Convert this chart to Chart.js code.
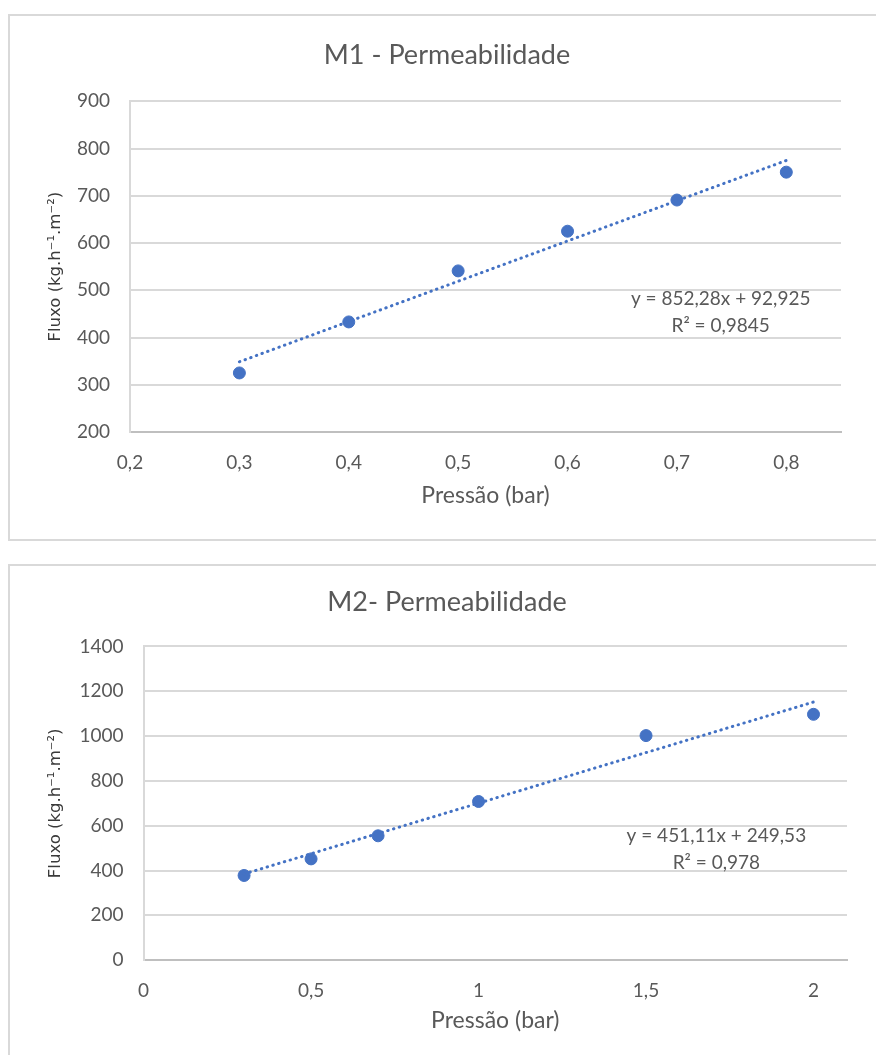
<!DOCTYPE html>
<html>
<head>
<meta charset="utf-8">
<script src="https://cdn.jsdelivr.net/npm/chart.js@4/dist/chart.umd.min.js"></script>
<style>
  body { margin: 0; background: #fff; overflow: hidden; }
  .box { position: absolute; left: 8px; width: 874px; border: 2px solid #d9d9d9; background: #fff; }
  .box canvas { display: block; }
</style>
</head>
<body>
<div class="box" style="top:14px; height:523px;"><canvas id="m1" width="874" height="523"></canvas></div>
<div class="box" style="top:564px; height:522px;"><canvas id="m2" width="874" height="522"></canvas></div>
<script>
// M1
const m1Pressao = [0.3, 0.4, 0.5, 0.6, 0.7, 0.8];
const m1Fluxo = [325, 433, 541, 625, 691, 750];
const m1Trend = [852.28, 92.925];   // slope, intercept
const m1XTicks = [0.2, 0.3, 0.4, 0.5, 0.6, 0.7, 0.8];
const m1Labels = ['y = 852,28x + 92,925', 'R² = 0,9845'];

// M2
const m2Pressao = [0.3, 0.5, 0.7, 1.0, 1.5, 2.0];
const m2Fluxo = [378, 452, 555, 708, 1002, 1097];
const m2Trend = [451.11, 249.53];
const m2XTicks = [0, 0.5, 1, 1.5, 2];
const m2Labels = ['y = 451,11x + 249,53', 'R² = 0,978'];

const blue = '#4472C4';
const grey = '#595959';
const FONT = 'Lato';

const equationLabel = {
  id: 'equationLabel',
  afterDatasetsDraw(chart, args, opts) {
    const ctx = chart.ctx;
    const x = chart.scales.x.getPixelForValue(opts.x);
    const y = chart.scales.y.getPixelForValue(opts.y);
    ctx.save();
    ctx.font = '19px ' + FONT;
    ctx.fillStyle = grey;
    ctx.textAlign = 'center';
    ctx.textBaseline = 'middle';
    opts.lines.forEach((line, i) => {
      ctx.fillText(line, x, y + (i - (opts.lines.length - 1) / 2) * 27);
    });
    ctx.restore();
  }
};

function points(xs, ys) {
  return xs.map((x, i) => ({x: x, y: ys[i]}));
}

function trendPoints(xs, coef) {
  const a = xs[0], b = xs[xs.length - 1];
  return [{x: a, y: coef[0] * a + coef[1]}, {x: b, y: coef[0] * b + coef[1]}];
}

function decimalComma(v) {
  return String(Math.round(v * 100) / 100).replace('.', ',');
}

function makeChart(id, cfg) {
  return new Chart(document.getElementById(id).getContext('2d'), {
    type: 'scatter',
    data: {
      datasets: [{
        label: 'trend',
        data: trendPoints(cfg.xs, cfg.trend),
        showLine: true,
        borderColor: blue,
        borderWidth: 3,
        borderDash: [0.5, 5.5],
        borderCapStyle: 'round',
        pointRadius: 0,
        order: 0,
      },
      {
        label: 'Fluxo',
        data: points(cfg.xs, cfg.ys),
        backgroundColor: blue,
        borderColor: blue,
        borderWidth: 1,
        pointRadius: 6,
        order: 1,
      }]
    },
    plugins: [equationLabel],
    options: {
      responsive: false,
      animation: false,
      layout: { padding: { top: 0, left: 0, right: 0, bottom: cfg.padBottom } },
      plugins: {
        legend: { display: false },
        tooltip: { enabled: false },
        title: {
          display: true,
          text: cfg.title,
          color: grey,
          font: { family: FONT, size: 27, weight: 'normal' },
          padding: { top: cfg.titleTop, bottom: cfg.titleBottom },
        },
        equationLabel: { x: cfg.labelAt[0], y: cfg.labelAt[1], lines: cfg.lines },
      },
      scales: {
        x: {
          type: 'linear',
          min: cfg.xMin,
          max: cfg.xMax,
          afterFit: (scale) => { scale.height = 80; },
          afterBuildTicks: (scale) => { scale.ticks = cfg.xTicks.map((v) => ({value: v})); },
          grid: { display: false },
          border: { display: true, color: '#bfbfbf', width: 2 },
          ticks: {
            padding: 11,
            color: grey,
            font: { family: FONT, size: 19 },
            callback: (v) => decimalComma(v),
          },
          title: {
            display: true,
            text: 'Pressão (bar)',
            color: grey,
            font: { family: FONT, size: 23 },
            padding: { top: 0, bottom: cfg.xTitlePad },
          }
        },
        y: {
          min: cfg.yMin,
          max: cfg.yMax,
          afterFit: (scale) => { scale.width = cfg.yWidth; },
          grid: { color: '#d9d9d9', lineWidth: 2, drawTicks: false },
          border: { display: true, color: '#d9d9d9', width: 2 },
          ticks: {
            stepSize: cfg.yStep,
            padding: 20,
            color: grey,
            font: { family: FONT, size: 19 },
            callback: (v) => String(v),
          },
          title: {
            display: true,
            text: 'Fluxo (kg.h⁻¹.m⁻²)',
            color: '#3a3a3a',
            font: { family: '"DejaVu Sans", Verdana, sans-serif', size: 16.5 },
            padding: { top: 36, bottom: 0 },
          }
        },
        // empty right-hand axis, only keeps the plot area off the right edge
        spacer: {
          type: 'linear',
          position: 'right',
          display: true,
          afterFit: (scale) => { scale.width = cfg.padRight; },
          grid: { display: false },
          border: { display: false },
          ticks: { display: false },
        }
      }
    }
  });
}

makeChart('m1', {
  xs: m1Pressao, ys: m1Fluxo, trend: m1Trend, lines: m1Labels, xTicks: m1XTicks,
  title: 'M1 - Permeabilidade',
  xMin: 0.2, xMax: 0.85,
  yMin: 200, yMax: 900, yStep: 100,
  yWidth: 120, padRight: 43, padBottom: 27,
  titleTop: 22.6, titleBottom: 30.3, xTitlePad: 3,
  labelAt: [0.74, 453],
});

makeChart('m2', {
  xs: m2Pressao, ys: m2Fluxo, trend: m2Trend, lines: m2Labels, xTicks: m2XTicks,
  title: 'M2- Permeabilidade',
  xMin: 0, xMax: 2.1,
  yMin: 0, yMax: 1400, yStep: 200,
  yWidth: 133.6, padRight: 37, padBottom: 47.8,
  titleTop: 19.6, titleBottom: 28.4, xTitlePad: 6,
  labelAt: [1.71, 494],
});
</script>
</body>
</html>
